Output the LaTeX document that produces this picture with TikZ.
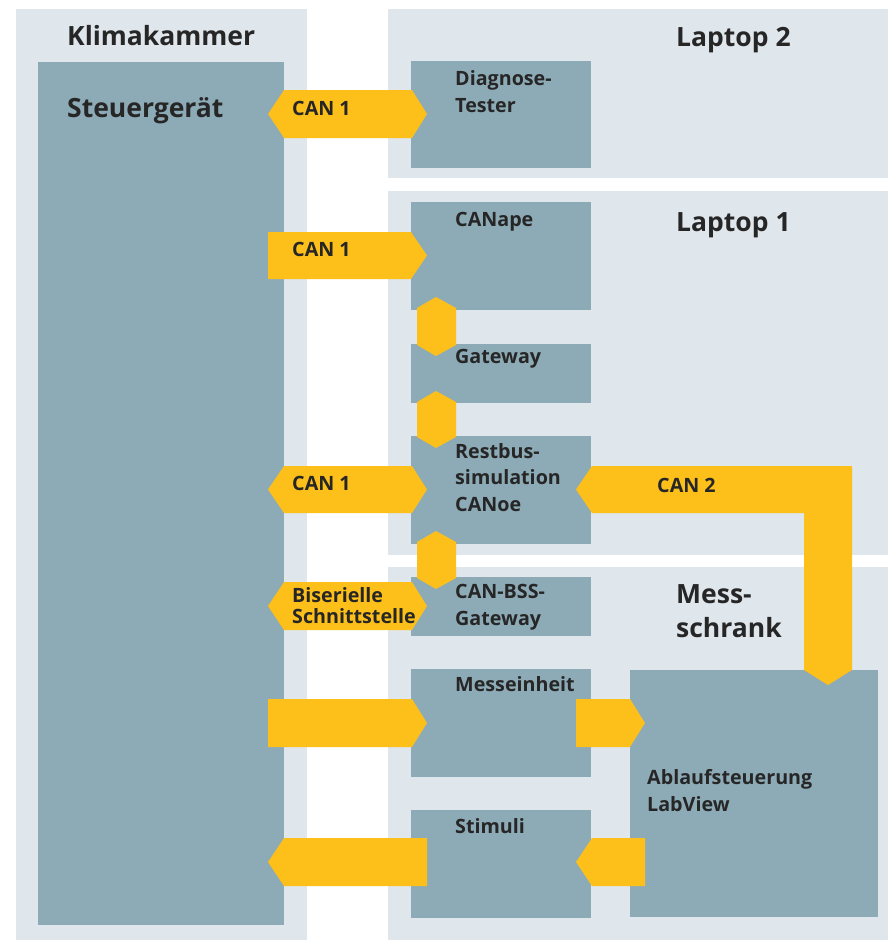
\documentclass[tikz,border=0pt]{standalone}
\usepackage{fontspec}
\setmainfont{Open Sans}
\definecolor{bgc}{HTML}{DFE6EC}
\definecolor{boxc}{HTML}{8DABB6}
\definecolor{yel}{HTML}{FDC01A}
\definecolor{txt}{HTML}{262626}
\tikzset{
  bg/.style={fill=bgc, draw=none},
  box/.style={fill=boxc, draw=none, anchor=north west, inner sep=0pt, outer sep=0pt},
  band/.style={fill=yel, draw=none},
  big/.style={anchor=base west, inner sep=0pt, text=txt, font=\fontsize{26.5}{34}\selectfont\bfseries, align=left},
  lbl/.style={anchor=base west, inner sep=0pt, text=txt, font=\fontsize{19.7}{26.5}\selectfont\bfseries, align=left},
}
\begin{document}
\begin{tikzpicture}[x=1pt,y=-1pt]
\useasboundingbox (0,0) rectangle (888,940);
\fill[white] (0,0) rectangle (888,940);
% background regions
\fill[bg] (16,9) rectangle (307,940);
\fill[bg] (388,9) rectangle (888,178);
\fill[bg] (388,191) rectangle (888,555);
\fill[bg] (388,567) rectangle (888,940);
% boxes
\node[box, minimum width=246pt, minimum height=863pt] (sg) at (38,62) {};
\node[box, minimum width=180pt, minimum height=107pt] (diag) at (411,61) {};
\node[box, minimum width=180pt, minimum height=108pt] (canape) at (411,202) {};
\node[box, minimum width=180pt, minimum height=59pt] (gw) at (411,344) {};
\node[box, minimum width=180pt, minimum height=108pt] (rbs) at (411,436) {};
\node[box, minimum width=180pt, minimum height=59pt] (bss) at (411,577) {};
\node[box, minimum width=180pt, minimum height=108pt] (mess) at (411,669) {};
\node[box, minimum width=180pt, minimum height=108pt] (stim) at (411,810) {};
\node[box, minimum width=248pt, minimum height=247pt] (ablauf) at (630,670) {};
% yellow bands
\fill[band] (268,114) -- (284,90) -- (412,90) -- (427,114) -- (412,138) -- (284,138) -- cycle;
\fill[band] (268,232) -- (411,232) -- (427,255.5) -- (411,279) -- (268,279) -- cycle;
\fill[band] (268,489.5) -- (284,466) -- (412,466) -- (427,489.5) -- (412,513) -- (284,513) -- cycle;
\fill[band] (268,606) -- (284,582) -- (412,582) -- (427,606) -- (412,630) -- (284,630) -- cycle;
% hexagons
\fill[band] (417,308) -- (436,297) -- (456,308) -- (456,345) -- (436,356) -- (417,345) -- cycle;
\fill[band] (417,402) -- (436,391) -- (456,402) -- (456,437) -- (436,448) -- (417,437) -- cycle;
\fill[band] (417,542) -- (436,531) -- (456,542) -- (456,578) -- (436,589) -- (417,578) -- cycle;
% CAN 2 elbow
\fill[band] (576,489.5) -- (592,466) -- (852,466) -- (852,670) -- (828,685) -- (804,670) -- (804,513) -- (592,513) -- cycle;
% measurement and stimuli arrows
\fill[band] (268,699) -- (412,699) -- (427,723) -- (412,747) -- (268,747) -- cycle;
\fill[band] (576,699) -- (630,699) -- (645,723) -- (630,747) -- (576,747) -- cycle;
\fill[band] (268,862) -- (284,838) -- (427,838) -- (427,886) -- (284,886) -- cycle;
\fill[band] (576,862) -- (592,838) -- (645,838) -- (645,886) -- (592,886) -- cycle;
% titles
\node[big] (tklima) at (67,45) {Klimakammer};
\node[big] (tsg) at (67,117) {Steuergerät};
\node[big] (tl2) at (676,46) {Laptop 2};
\node[big] (tl1) at (676,231) {Laptop 1};
\node[big] (tms) at (676,637) {Mess-\\schrank};
% box labels (position = baseline of last line)
\node[lbl] (tdiag) at (455,112) {Diagnose-\\Tester};
\node[lbl] (tcanape) at (455,226) {CANape};
\node[lbl] (tgw) at (455,363) {Gateway};
\node[lbl] (trbs) at (455,511) {Restbus-\\simulation\\CANoe};
\node[lbl] (tbss) at (455,625) {CAN-BSS-\\Gateway};
\node[lbl] (tmess) at (455,691) {Messeinheit};
\node[lbl] (tstim) at (455,833) {Stimuli};
\node[lbl] (tabl) at (647,811) {Ablaufsteuerung\\LabView};
% band labels
\node[lbl] (c1a) at (292,115) {CAN 1};
\node[lbl] (c1b) at (292,256) {CAN 1};
\node[lbl] (c1c) at (292,490) {CAN 1};
\node[lbl] (c2) at (657,492) {CAN 2};
\node[lbl, font=\fontsize{19.7}{21}\selectfont\bfseries] (bis) at (292,623) {Biserielle\\Schnittstelle};
\end{tikzpicture}
\end{document}
